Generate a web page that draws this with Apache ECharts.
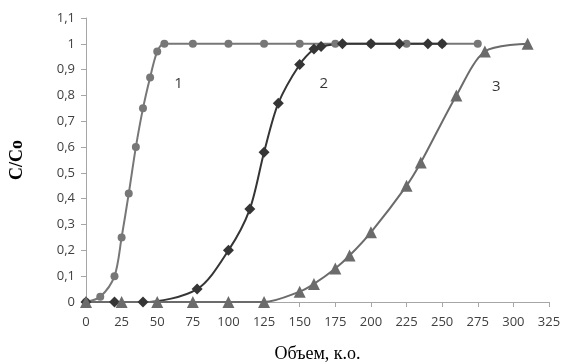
<!DOCTYPE html>
<html>
<head>
<meta charset="utf-8">
<script src="https://cdn.jsdelivr.net/npm/echarts@6/dist/echarts.min.js"></script>
<style>html,body{margin:0;padding:0;background:#fff;}#c{width:563px;height:363px;}</style>
</head>
<body>
<div id="c"></div>
<script>
// Series 1 (circles)
var s1x = [0, 10, 20, 25, 30, 35, 40, 45, 50, 55, 75, 100, 125, 150, 175, 200, 225, 250, 275];
var s1y = [0, 0.02, 0.1, 0.25, 0.42, 0.6, 0.75, 0.87, 0.97, 1, 1, 1, 1, 1, 1, 1, 1, 1, 1];
// Series 2 (diamonds)
var s2x = [0, 20, 40, 78, 100, 115, 125, 135, 150, 160, 165, 180, 200, 220, 240, 250];
var s2y = [0, 0, 0, 0.05, 0.2, 0.36, 0.58, 0.77, 0.92, 0.98, 0.99, 1, 1, 1, 1, 1];
// Series 3 (triangles)
var s3x = [0, 25, 50, 75, 100, 125, 150, 160, 175, 185, 200, 225, 235, 260, 280, 310];
var s3y = [0, 0, 0, 0, 0, 0, 0.04, 0.07, 0.13, 0.18, 0.27, 0.45, 0.54, 0.8, 0.97, 1];
// Curve labels
var curveNames = ['1', '2', '3'];
var curveLabelX = [65, 167, 288];
var curveLabelY = [0.847, 0.847, 0.835];

function pairs(xs, ys) { return xs.map(function (x, i) { return [x, ys[i]]; }); }

var chart = echarts.init(document.getElementById('c'), null, { renderer: 'canvas' });
var axisColor = '#a6a6a6';
var labelColor = '#404040';
var labelFont = '"Open Sans", "Liberation Sans", sans-serif';

chart.setOption({
  animation: false,
  backgroundColor: '#ffffff',
  grid: { left: 86, right: 14, top: 18, bottom: 61, containLabel: false, outerBoundsMode: 'none' },
  xAxis: {
    type: 'value', min: 0, max: 325, interval: 25,
    name: 'Объем, к.о.', nameLocation: 'middle', nameGap: 43,
    nameTextStyle: { fontFamily: '"Liberation Serif", "DejaVu Serif", serif', fontSize: 18, color: '#000' },
    axisLine: { show: true, onZero: false, lineStyle: { color: axisColor, width: 1 } },
    axisTick: { show: true, inside: false, length: 5, lineStyle: { color: axisColor } },
    axisLabel: { color: labelColor, fontSize: 13, fontFamily: labelFont, margin: 14 },
    splitLine: { show: false }
  },
  yAxis: {
    type: 'value', min: 0, max: 1.1, interval: 0.1,
    name: 'C/Co', nameLocation: 'middle', nameGap: 60, nameRotate: 90,
    nameTextStyle: { fontFamily: '"Liberation Serif", "DejaVu Serif", serif', fontSize: 18, fontWeight: 'bold', color: '#000' },
    axisLine: { show: true, lineStyle: { color: axisColor, width: 1 } },
    axisTick: { show: true, inside: false, length: 5, lineStyle: { color: axisColor } },
    axisLabel: {
      color: labelColor, fontSize: 13, fontFamily: labelFont, margin: 11,
      formatter: function (v) { return String(+v.toFixed(1)).replace('.', ','); }
    },
    splitLine: { show: false }
  },
  series: [
    {
      type: 'line', name: '1', data: pairs(s1x, s1y), smooth: 0.3,
      symbol: 'circle', symbolSize: 8,
      lineStyle: { color: '#777777', width: 2 },
      itemStyle: { color: '#777777' }
    },
    {
      type: 'line', name: '2', data: pairs(s2x, s2y), smooth: 0.3,
      symbol: 'diamond', symbolSize: 11,
      lineStyle: { color: '#353535', width: 2 },
      itemStyle: { color: '#353535' }
    },
    {
      type: 'line', name: '3', data: pairs(s3x, s3y), smooth: 0.3,
      symbol: 'triangle', symbolSize: 12,
      lineStyle: { color: '#6b6b6b', width: 2 },
      itemStyle: { color: '#6b6b6b' }
    },
    {
      type: 'scatter', symbolSize: 0, silent: true,
      data: curveNames.map(function (n, i) { return { value: [curveLabelX[i], curveLabelY[i]], name: n }; }),
      label: {
        show: true, position: 'inside', formatter: function (p) { return p.name; },
        color: '#000', fontSize: 15, fontFamily: labelFont
      }
    }
  ]
});
</script>
</body>
</html>
